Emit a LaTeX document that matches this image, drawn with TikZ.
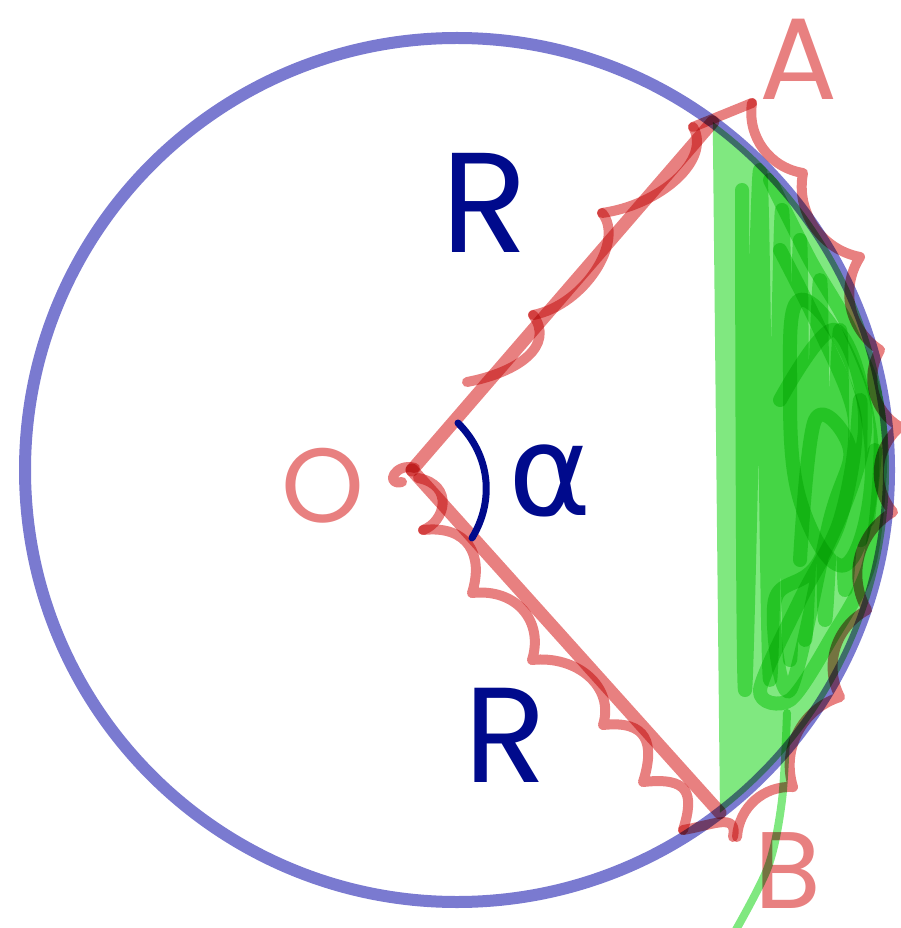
\documentclass[tikz,border=0pt]{standalone}
\usepackage{fontspec}
\setmainfont{Poppins}
\newfontfamily\greekhand{DejaVu Sans}
\usetikzlibrary{calc}
\definecolor{ringblue}{RGB}{122,122,208}
\definecolor{inkred}{RGB}{232,128,128}
\definecolor{inknavy}{RGB}{0,10,140}
\definecolor{segfill}{RGB}{128,232,128}
\definecolor{scribgreen}{RGB}{138,235,138}
\begin{document}
\begin{tikzpicture}[
    x=0.02cm,
    y=-0.02cm,
    ring/.style={draw=ringblue,line width=0.24cm},
    redline/.style={draw=inkred,line width=0.26cm,line cap=round},
    redcurl/.style={draw=inkred,line width=0.2cm,line cap=round,line join=round},
    navyink/.style={draw=inknavy,line width=0.14cm,line cap=round},
    scribble/.style={draw=scribgreen,line width=0.28cm,line cap=round,line join=round},
    greenline/.style={draw=segfill,line width=0.16cm,line cap=round},
    redlabel/.style={text=inkred,inner sep=0pt,anchor=base},
    navylabel/.style={text=inknavy,inner sep=0pt,anchor=base}
  ]
    \useasboundingbox (0,0) rectangle (901,928);
    \coordinate (C) at (457,470);
    \coordinate (O) at (412,470);
    \coordinate (A) at ($(C)+(-53.7:432)$);
    \coordinate (B) at ($(C)+(52.5:432)$);

    \begin{scope}[blend mode=multiply]
    \fill[segfill] (A) arc[start angle=-53.7,end angle=52.5,radius=432] -- cycle;
    \begin{scope}
      \clip (A) arc[start angle=-53.7,end angle=52.5,radius=432] -- cycle;
      \draw[scribble] plot[smooth,tension=0.5] coordinates {
        (742,190) (745,690) (760,170) (770,680) (782,210) (790,660)
        (800,240) (805,640) (820,280) (825,620) (840,330) (845,590)
        (860,400) (860,540) (875,450) (868,520)};
      \draw[scribble] plot[smooth cycle,tension=0.7] coordinates {
        (800,300) (850,360) (872,470) (845,565) (800,500) (790,380)};
      \draw[scribble] plot[smooth,tension=0.6] coordinates {
        (780,400) (835,330) (865,430) (820,560) (775,600) (790,690)
        (830,520) (850,450) (815,420) (800,560)};
      \draw[scribble] plot[smooth,tension=0.5] coordinates {
        (770,180) (810,260) (850,330) (880,420) (870,560) (830,640)
        (790,700) (760,690) (800,600) (840,520) (855,420) (820,330) (780,250)};
    \end{scope}
    \draw[greenline] plot[smooth] coordinates {(787,713) (782,800) (768,867) (733,935)};

    \draw[ring] (C) circle[radius=432];

    \draw[redline] (O) -- (A);
    \draw[redline] (O) -- (B);

    \draw[redcurl] (415,468) .. controls (395,462) and (384,486) .. (402,482);
    \draw[redcurl] (418,478) .. controls (455,485) and (445,522) .. (423,530);
    \draw[redcurl] \foreach \ax/\ay/\bx/\by in {423/530/472/593, 472/593/532/660,
      532/660/603/725, 603/725/643/782, 643/782/683/830}
      {(\ax,\ay) .. controls +(45,-5) and +(12,-38) .. (\bx,\by)};
    \draw[redcurl] (683,830) .. controls +(30,-5) and +(5,-25) .. (733,837);

    \draw[redcurl] (467,382) .. controls (520,372) and (555,345) .. (533,315);
    \draw[redcurl] (533,315) .. controls (585,305) and (625,240) .. (602,213);
    \draw[redcurl] (602,213) .. controls (660,205) and (712,160) .. (693,127);
    \draw[redcurl] (693,127) -- (752,103);
    \draw[redcurl] (752,103) \foreach \px/\py in {803/173, 860/257, 880/350, 900/427,
      893/512, 867/610, 840/697, 793/787, 737/837} {to[bend right=45] (\px,\py)};

    \node[redlabel,font=\fontsize{60}{60}\selectfont] (lblO) at (323,522) {O};
    \node[redlabel,font=\fontsize{66}{66}\selectfont] (lblA) at (799,100) {A};
    \node[redlabel,font=\fontsize{62}{62}\selectfont] (lblB) at (788,908) {B};
    \end{scope}

    \draw[navyink] (458,423) .. controls (490,455) and (495,500) .. (472,538);
    \node[navylabel,font=\fontsize{81}{81}\selectfont] (lblRtop) at (485,253) {R};
    \node[navylabel,font=\fontsize{77}{77}\selectfont] (lblRbot) at (506,782) {R};
    \node[navylabel,font=\greekhand\fontsize{72}{72}\selectfont,anchor=base west]
      (lblalpha) at (508,515) {α};
  \end{tikzpicture}
\end{document}
